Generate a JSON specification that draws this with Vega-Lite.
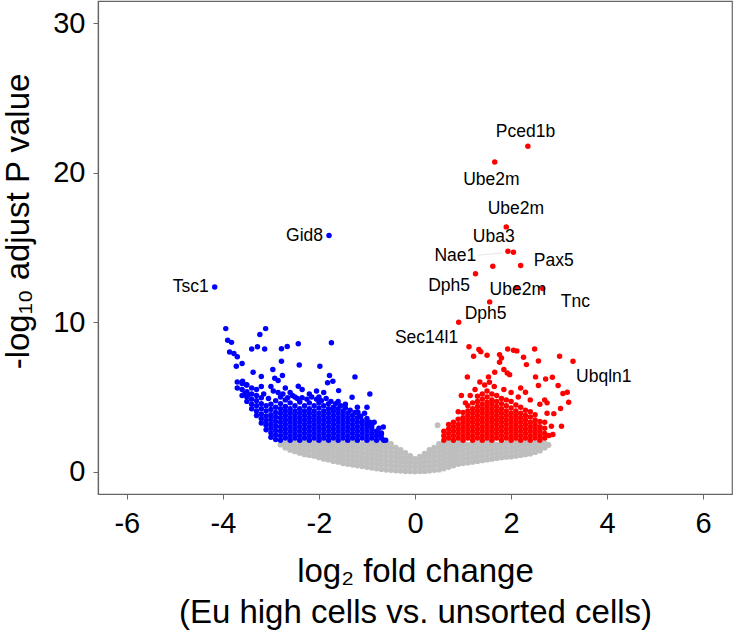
{
"$schema": "https://vega.github.io/schema/vega-lite/v6.json",
"width": 634, "height": 493,
"autosize": "none",
"padding": {"left": 98, "top": 1, "right": 2, "bottom": 140},
"background": "white",
"config": {"font": "Liberation Sans", "view": {"stroke": "#666666", "strokeWidth": 1.2}},
"datasets": {
"ns": [
{"lfc":-2.8,"p":1.8},
{"lfc":-2.7,"p":1.6},{"lfc":-2.7,"p":1.9},
{"lfc":-2.6,"p":1.45},{"lfc":-2.6,"p":1.75},{"lfc":-2.6,"p":1.95},
{"lfc":-2.5,"p":1.35},{"lfc":-2.5,"p":1.65},{"lfc":-2.5,"p":1.95},
{"lfc":-2.4,"p":1.25},{"lfc":-2.4,"p":1.55},{"lfc":-2.4,"p":1.85},
{"lfc":-2.3,"p":1.15},{"lfc":-2.3,"p":1.45},{"lfc":-2.3,"p":1.75},{"lfc":-2.3,"p":1.95},
{"lfc":-2.2,"p":1.1},{"lfc":-2.2,"p":1.4},{"lfc":-2.2,"p":1.7},{"lfc":-2.2,"p":1.95},
{"lfc":-2.1,"p":1.05},{"lfc":-2.1,"p":1.35},{"lfc":-2.1,"p":1.65},{"lfc":-2.1,"p":1.95},
{"lfc":-2.0,"p":0.95},{"lfc":-2.0,"p":1.25},{"lfc":-2.0,"p":1.55},{"lfc":-2.0,"p":1.85},
{"lfc":-1.9,"p":0.85},{"lfc":-1.9,"p":1.15},{"lfc":-1.9,"p":1.45},{"lfc":-1.9,"p":1.75},{"lfc":-1.9,"p":1.95},
{"lfc":-1.8,"p":0.8},{"lfc":-1.8,"p":1.1},{"lfc":-1.8,"p":1.4},{"lfc":-1.8,"p":1.7},{"lfc":-1.8,"p":1.95},
{"lfc":-1.7,"p":0.7},{"lfc":-1.7,"p":1.0},{"lfc":-1.7,"p":1.3},{"lfc":-1.7,"p":1.6},{"lfc":-1.7,"p":1.9},
{"lfc":-1.6,"p":0.65},{"lfc":-1.6,"p":0.95},{"lfc":-1.6,"p":1.25},{"lfc":-1.6,"p":1.55},{"lfc":-1.6,"p":1.85},
{"lfc":-1.5,"p":0.55},{"lfc":-1.5,"p":0.85},{"lfc":-1.5,"p":1.15},{"lfc":-1.5,"p":1.45},{"lfc":-1.5,"p":1.75},{"lfc":-1.5,"p":1.95},
{"lfc":-1.4,"p":0.5},{"lfc":-1.4,"p":0.8},{"lfc":-1.4,"p":1.1},{"lfc":-1.4,"p":1.4},{"lfc":-1.4,"p":1.7},{"lfc":-1.4,"p":1.95},
{"lfc":-1.3,"p":0.45},{"lfc":-1.3,"p":0.75},{"lfc":-1.3,"p":1.05},{"lfc":-1.3,"p":1.35},{"lfc":-1.3,"p":1.65},{"lfc":-1.3,"p":1.95},
{"lfc":-1.2,"p":0.4},{"lfc":-1.2,"p":0.7},{"lfc":-1.2,"p":1.0},{"lfc":-1.2,"p":1.3},{"lfc":-1.2,"p":1.6},{"lfc":-1.2,"p":1.9},
{"lfc":-1.1,"p":0.35},{"lfc":-1.1,"p":0.65},{"lfc":-1.1,"p":0.95},{"lfc":-1.1,"p":1.25},{"lfc":-1.1,"p":1.55},{"lfc":-1.1,"p":1.85},
{"lfc":-1.0,"p":0.3},{"lfc":-1.0,"p":0.6},{"lfc":-1.0,"p":0.9},{"lfc":-1.0,"p":1.2},{"lfc":-1.0,"p":1.5},{"lfc":-1.0,"p":1.8},{"lfc":-1.0,"p":1.95},
{"lfc":-0.9,"p":0.25},{"lfc":-0.9,"p":0.55},{"lfc":-0.9,"p":0.85},{"lfc":-0.9,"p":1.15},{"lfc":-0.9,"p":1.45},{"lfc":-0.9,"p":1.75},{"lfc":-0.9,"p":1.95},
{"lfc":-0.8,"p":0.2},{"lfc":-0.8,"p":0.5},{"lfc":-0.8,"p":0.8},{"lfc":-0.8,"p":1.1},{"lfc":-0.8,"p":1.4},{"lfc":-0.8,"p":1.7},{"lfc":-0.8,"p":1.95},
{"lfc":-0.7,"p":0.15},{"lfc":-0.7,"p":0.45},{"lfc":-0.7,"p":0.75},{"lfc":-0.7,"p":1.05},{"lfc":-0.7,"p":1.35},{"lfc":-0.7,"p":1.65},{"lfc":-0.7,"p":1.95},
{"lfc":-0.6,"p":0.12},{"lfc":-0.6,"p":0.42},{"lfc":-0.6,"p":0.72},{"lfc":-0.6,"p":1.02},{"lfc":-0.6,"p":1.32},{"lfc":-0.6,"p":1.62},{"lfc":-0.6,"p":1.9},
{"lfc":-0.5,"p":0.1},{"lfc":-0.5,"p":0.4},{"lfc":-0.5,"p":0.7},{"lfc":-0.5,"p":1.0},{"lfc":-0.5,"p":1.3},{"lfc":-0.5,"p":1.6},{"lfc":-0.5,"p":1.85},
{"lfc":-0.4,"p":0.07},{"lfc":-0.4,"p":0.37},{"lfc":-0.4,"p":0.67},{"lfc":-0.4,"p":0.97},{"lfc":-0.4,"p":1.27},{"lfc":-0.4,"p":1.6},
{"lfc":-0.3,"p":0.05},{"lfc":-0.3,"p":0.35},{"lfc":-0.3,"p":0.65},{"lfc":-0.3,"p":0.95},{"lfc":-0.3,"p":1.25},{"lfc":-0.3,"p":1.45},
{"lfc":-0.2,"p":0.03},{"lfc":-0.2,"p":0.33},{"lfc":-0.2,"p":0.63},{"lfc":-0.2,"p":0.93},{"lfc":-0.2,"p":1.25},
{"lfc":-0.1,"p":0.02},{"lfc":-0.1,"p":0.3},{"lfc":-0.1,"p":0.6},{"lfc":-0.1,"p":0.9},{"lfc":-0.1,"p":1.05},
{"lfc":0.0,"p":0.0},{"lfc":0.0,"p":0.3},{"lfc":0.0,"p":0.6},{"lfc":0.0,"p":0.85},
{"lfc":0.1,"p":0.02},{"lfc":0.1,"p":0.3},{"lfc":0.1,"p":0.6},{"lfc":0.1,"p":0.9},{"lfc":0.1,"p":1.0},
{"lfc":0.2,"p":0.03},{"lfc":0.2,"p":0.33},{"lfc":0.2,"p":0.63},{"lfc":0.2,"p":0.93},{"lfc":0.2,"p":1.2},
{"lfc":0.3,"p":0.06},{"lfc":0.3,"p":0.36},{"lfc":0.3,"p":0.66},{"lfc":0.3,"p":0.96},{"lfc":0.3,"p":1.26},{"lfc":0.3,"p":1.45},
{"lfc":0.4,"p":0.1},{"lfc":0.4,"p":0.4},{"lfc":0.4,"p":0.7},{"lfc":0.4,"p":1.0},{"lfc":0.4,"p":1.3},{"lfc":0.4,"p":1.6},
{"lfc":0.5,"p":0.13},{"lfc":0.5,"p":0.43},{"lfc":0.5,"p":0.73},{"lfc":0.5,"p":1.03},{"lfc":0.5,"p":1.33},{"lfc":0.5,"p":1.63},{"lfc":0.5,"p":1.85},
{"lfc":0.6,"p":0.2},{"lfc":0.6,"p":0.5},{"lfc":0.6,"p":0.8},{"lfc":0.6,"p":1.1},{"lfc":0.6,"p":1.4},{"lfc":0.6,"p":1.7},{"lfc":0.6,"p":1.92},
{"lfc":0.7,"p":0.3},{"lfc":0.7,"p":0.6},{"lfc":0.7,"p":0.9},{"lfc":0.7,"p":1.2},{"lfc":0.7,"p":1.5},{"lfc":0.7,"p":1.8},{"lfc":0.7,"p":1.95},
{"lfc":0.8,"p":0.4},{"lfc":0.8,"p":0.7},{"lfc":0.8,"p":1.0},{"lfc":0.8,"p":1.3},{"lfc":0.8,"p":1.6},{"lfc":0.8,"p":1.9},
{"lfc":0.9,"p":0.5},{"lfc":0.9,"p":0.8},{"lfc":0.9,"p":1.1},{"lfc":0.9,"p":1.4},{"lfc":0.9,"p":1.7},{"lfc":0.9,"p":1.95},
{"lfc":1.0,"p":0.55},{"lfc":1.0,"p":0.85},{"lfc":1.0,"p":1.15},{"lfc":1.0,"p":1.45},{"lfc":1.0,"p":1.75},{"lfc":1.0,"p":1.95},
{"lfc":1.1,"p":0.6},{"lfc":1.1,"p":0.9},{"lfc":1.1,"p":1.2},{"lfc":1.1,"p":1.5},{"lfc":1.1,"p":1.8},
{"lfc":1.2,"p":0.65},{"lfc":1.2,"p":0.95},{"lfc":1.2,"p":1.25},{"lfc":1.2,"p":1.55},{"lfc":1.2,"p":1.85},
{"lfc":1.3,"p":0.7},{"lfc":1.3,"p":1.0},{"lfc":1.3,"p":1.3},{"lfc":1.3,"p":1.6},{"lfc":1.3,"p":1.9},
{"lfc":1.4,"p":0.75},{"lfc":1.4,"p":1.05},{"lfc":1.4,"p":1.35},{"lfc":1.4,"p":1.65},{"lfc":1.4,"p":1.95},
{"lfc":1.5,"p":0.8},{"lfc":1.5,"p":1.1},{"lfc":1.5,"p":1.4},{"lfc":1.5,"p":1.7},{"lfc":1.5,"p":1.95},
{"lfc":1.6,"p":0.85},{"lfc":1.6,"p":1.15},{"lfc":1.6,"p":1.45},{"lfc":1.6,"p":1.75},{"lfc":1.6,"p":1.95},
{"lfc":1.7,"p":0.9},{"lfc":1.7,"p":1.2},{"lfc":1.7,"p":1.5},{"lfc":1.7,"p":1.8},
{"lfc":1.8,"p":0.95},{"lfc":1.8,"p":1.25},{"lfc":1.8,"p":1.55},{"lfc":1.8,"p":1.85},
{"lfc":1.9,"p":0.98},{"lfc":1.9,"p":1.28},{"lfc":1.9,"p":1.58},{"lfc":1.9,"p":1.88},
{"lfc":2.0,"p":1.0},{"lfc":2.0,"p":1.3},{"lfc":2.0,"p":1.6},{"lfc":2.0,"p":1.9},
{"lfc":2.1,"p":1.05},{"lfc":2.1,"p":1.35},{"lfc":2.1,"p":1.65},{"lfc":2.1,"p":1.95},
{"lfc":2.2,"p":1.1},{"lfc":2.2,"p":1.4},{"lfc":2.2,"p":1.7},{"lfc":2.2,"p":1.95},
{"lfc":2.3,"p":1.15},{"lfc":2.3,"p":1.45},{"lfc":2.3,"p":1.75},{"lfc":2.3,"p":1.95},
{"lfc":2.4,"p":1.2},{"lfc":2.4,"p":1.5},{"lfc":2.4,"p":1.8},
{"lfc":2.5,"p":1.3},{"lfc":2.5,"p":1.6},{"lfc":2.5,"p":1.9},
{"lfc":2.6,"p":1.4},{"lfc":2.6,"p":1.7},{"lfc":2.6,"p":1.95},
{"lfc":2.7,"p":1.6},{"lfc":2.7,"p":1.9},
{"lfc":2.78,"p":1.78},
{"lfc":0.47,"p":3.1}
],
"down": [
{"lfc":-3.7,"p":5.6},{"lfc":-3.7,"p":6.0},
{"lfc":-3.6,"p":5.1},{"lfc":-3.6,"p":5.5},{"lfc":-3.6,"p":5.9},
{"lfc":-3.5,"p":4.7},{"lfc":-3.5,"p":5.0},{"lfc":-3.5,"p":5.35},{"lfc":-3.5,"p":5.8},
{"lfc":-3.4,"p":4.2},{"lfc":-3.4,"p":4.5},{"lfc":-3.4,"p":4.85},{"lfc":-3.4,"p":5.2},{"lfc":-3.4,"p":5.6},
{"lfc":-3.3,"p":3.75},{"lfc":-3.3,"p":4.05},{"lfc":-3.3,"p":4.4},{"lfc":-3.3,"p":4.75},{"lfc":-3.3,"p":5.1},
{"lfc":-3.2,"p":3.25},{"lfc":-3.2,"p":3.55},{"lfc":-3.2,"p":3.85},{"lfc":-3.2,"p":4.2},{"lfc":-3.2,"p":4.55},{"lfc":-3.2,"p":4.95},
{"lfc":-3.1,"p":2.8},{"lfc":-3.1,"p":3.1},{"lfc":-3.1,"p":3.4},{"lfc":-3.1,"p":3.7},{"lfc":-3.1,"p":4.05},{"lfc":-3.1,"p":4.4},
{"lfc":-3.0,"p":2.3},{"lfc":-3.0,"p":2.6},{"lfc":-3.0,"p":2.9},{"lfc":-3.0,"p":3.2},{"lfc":-3.0,"p":3.5},{"lfc":-3.0,"p":3.8},{"lfc":-3.0,"p":4.15},{"lfc":-3.0,"p":4.5},
{"lfc":-2.9,"p":2.15},{"lfc":-2.9,"p":2.45},{"lfc":-2.9,"p":2.75},{"lfc":-2.9,"p":3.05},{"lfc":-2.9,"p":3.35},{"lfc":-2.9,"p":3.65},{"lfc":-2.9,"p":3.95},{"lfc":-2.9,"p":4.3},{"lfc":-2.9,"p":4.75},
{"lfc":-2.8,"p":2.1},{"lfc":-2.8,"p":2.4},{"lfc":-2.8,"p":2.7},{"lfc":-2.8,"p":3.0},{"lfc":-2.8,"p":3.3},{"lfc":-2.8,"p":3.6},{"lfc":-2.8,"p":3.9},{"lfc":-2.8,"p":4.2},{"lfc":-2.8,"p":4.55},{"lfc":-2.8,"p":5.0},
{"lfc":-2.7,"p":2.25},{"lfc":-2.7,"p":2.55},{"lfc":-2.7,"p":2.85},{"lfc":-2.7,"p":3.15},{"lfc":-2.7,"p":3.45},{"lfc":-2.7,"p":3.75},{"lfc":-2.7,"p":4.05},{"lfc":-2.7,"p":4.35},{"lfc":-2.7,"p":4.8},
{"lfc":-2.6,"p":2.1},{"lfc":-2.6,"p":2.4},{"lfc":-2.6,"p":2.7},{"lfc":-2.6,"p":3.0},{"lfc":-2.6,"p":3.3},{"lfc":-2.6,"p":3.6},{"lfc":-2.6,"p":3.9},{"lfc":-2.6,"p":4.2},{"lfc":-2.6,"p":4.6},
{"lfc":-2.5,"p":2.25},{"lfc":-2.5,"p":2.55},{"lfc":-2.5,"p":2.85},{"lfc":-2.5,"p":3.15},{"lfc":-2.5,"p":3.45},{"lfc":-2.5,"p":3.75},{"lfc":-2.5,"p":4.05},{"lfc":-2.5,"p":4.4},
{"lfc":-2.4,"p":2.1},{"lfc":-2.4,"p":2.4},{"lfc":-2.4,"p":2.7},{"lfc":-2.4,"p":3.0},{"lfc":-2.4,"p":3.3},{"lfc":-2.4,"p":3.6},{"lfc":-2.4,"p":3.9},{"lfc":-2.4,"p":4.2},{"lfc":-2.4,"p":4.65},
{"lfc":-2.3,"p":2.25},{"lfc":-2.3,"p":2.55},{"lfc":-2.3,"p":2.85},{"lfc":-2.3,"p":3.15},{"lfc":-2.3,"p":3.45},{"lfc":-2.3,"p":3.75},{"lfc":-2.3,"p":4.05},{"lfc":-2.3,"p":4.4},
{"lfc":-2.2,"p":2.1},{"lfc":-2.2,"p":2.4},{"lfc":-2.2,"p":2.7},{"lfc":-2.2,"p":3.0},{"lfc":-2.2,"p":3.3},{"lfc":-2.2,"p":3.6},{"lfc":-2.2,"p":3.9},{"lfc":-2.2,"p":4.2},{"lfc":-2.2,"p":4.6},
{"lfc":-2.1,"p":2.25},{"lfc":-2.1,"p":2.55},{"lfc":-2.1,"p":2.85},{"lfc":-2.1,"p":3.15},{"lfc":-2.1,"p":3.45},{"lfc":-2.1,"p":3.75},{"lfc":-2.1,"p":4.05},{"lfc":-2.1,"p":4.4},
{"lfc":-2.0,"p":2.1},{"lfc":-2.0,"p":2.4},{"lfc":-2.0,"p":2.7},{"lfc":-2.0,"p":3.0},{"lfc":-2.0,"p":3.3},{"lfc":-2.0,"p":3.6},{"lfc":-2.0,"p":3.9},{"lfc":-2.0,"p":4.25},{"lfc":-2.0,"p":4.6},
{"lfc":-1.9,"p":2.25},{"lfc":-1.9,"p":2.55},{"lfc":-1.9,"p":2.85},{"lfc":-1.9,"p":3.15},{"lfc":-1.9,"p":3.45},{"lfc":-1.9,"p":3.75},{"lfc":-1.9,"p":4.05},{"lfc":-1.9,"p":4.4},
{"lfc":-1.8,"p":2.1},{"lfc":-1.8,"p":2.4},{"lfc":-1.8,"p":2.7},{"lfc":-1.8,"p":3.0},{"lfc":-1.8,"p":3.3},{"lfc":-1.8,"p":3.6},{"lfc":-1.8,"p":3.9},{"lfc":-1.8,"p":4.2},{"lfc":-1.8,"p":4.55},
{"lfc":-1.7,"p":2.25},{"lfc":-1.7,"p":2.55},{"lfc":-1.7,"p":2.85},{"lfc":-1.7,"p":3.15},{"lfc":-1.7,"p":3.45},{"lfc":-1.7,"p":3.75},{"lfc":-1.7,"p":4.05},{"lfc":-1.7,"p":4.3},
{"lfc":-1.6,"p":2.1},{"lfc":-1.6,"p":2.4},{"lfc":-1.6,"p":2.7},{"lfc":-1.6,"p":3.0},{"lfc":-1.6,"p":3.3},{"lfc":-1.6,"p":3.6},{"lfc":-1.6,"p":3.9},{"lfc":-1.6,"p":4.2},
{"lfc":-1.5,"p":2.25},{"lfc":-1.5,"p":2.55},{"lfc":-1.5,"p":2.85},{"lfc":-1.5,"p":3.15},{"lfc":-1.5,"p":3.45},{"lfc":-1.5,"p":3.75},{"lfc":-1.5,"p":4.05},
{"lfc":-1.4,"p":2.1},{"lfc":-1.4,"p":2.4},{"lfc":-1.4,"p":2.7},{"lfc":-1.4,"p":3.0},{"lfc":-1.4,"p":3.3},{"lfc":-1.4,"p":3.6},{"lfc":-1.4,"p":3.9},
{"lfc":-1.3,"p":2.25},{"lfc":-1.3,"p":2.55},{"lfc":-1.3,"p":2.85},{"lfc":-1.3,"p":3.15},{"lfc":-1.3,"p":3.45},{"lfc":-1.3,"p":3.75},
{"lfc":-1.2,"p":2.1},{"lfc":-1.2,"p":2.4},{"lfc":-1.2,"p":2.7},{"lfc":-1.2,"p":3.0},{"lfc":-1.2,"p":3.3},{"lfc":-1.2,"p":3.6},
{"lfc":-1.1,"p":2.25},{"lfc":-1.1,"p":2.55},{"lfc":-1.1,"p":2.85},{"lfc":-1.1,"p":3.15},{"lfc":-1.1,"p":3.4},
{"lfc":-1.0,"p":2.1},{"lfc":-1.0,"p":2.4},{"lfc":-1.0,"p":2.7},{"lfc":-1.0,"p":3.0},{"lfc":-1.0,"p":3.25},
{"lfc":-0.9,"p":2.25},{"lfc":-0.9,"p":2.55},{"lfc":-0.9,"p":2.85},{"lfc":-0.9,"p":3.05},
{"lfc":-0.8,"p":2.1},{"lfc":-0.8,"p":2.4},{"lfc":-0.8,"p":2.7},
{"lfc":-0.7,"p":2.25},{"lfc":-0.7,"p":2.5},
{"lfc":-0.65,"p":2.1},
{"lfc":-2.75,"p":5.2},{"lfc":-2.65,"p":4.95},{"lfc":-2.55,"p":5.1},{"lfc":-2.45,"p":4.9},{"lfc":-2.35,"p":4.95},
{"lfc":-2.25,"p":4.85},{"lfc":-2.15,"p":5.0},{"lfc":-2.05,"p":4.85},{"lfc":-1.95,"p":4.75},{"lfc":-1.75,"p":4.7},
{"lfc":-1.65,"p":4.55},{"lfc":-1.55,"p":4.4},{"lfc":-1.45,"p":4.25},{"lfc":-1.35,"p":4.1},{"lfc":-1.25,"p":3.95},
{"lfc":-1.15,"p":3.7},{"lfc":-3.05,"p":4.9},{"lfc":-2.85,"p":5.3},
{"lfc":-3.94,"p":9.57},{"lfc":-3.11,"p":9.57},{"lfc":-3.23,"p":9.17},{"lfc":-3.9,"p":8.79},{"lfc":-3.82,"p":8.65},
{"lfc":-3.86,"p":8.01},{"lfc":-3.77,"p":7.9},{"lfc":-3.7,"p":7.68},{"lfc":-3.72,"p":7.05},{"lfc":-3.6,"p":7.23},
{"lfc":-3.4,"p":8.21},{"lfc":-3.28,"p":8.35},{"lfc":-3.13,"p":8.21},{"lfc":-2.78,"p":8.23},{"lfc":-2.66,"p":8.37},
{"lfc":-2.43,"p":8.55},{"lfc":-1.74,"p":8.63},{"lfc":-2.78,"p":7.38},{"lfc":-2.41,"p":7.14},{"lfc":-1.98,"p":7.05},
{"lfc":-3.37,"p":6.65},{"lfc":-3.2,"p":6.36},{"lfc":-2.96,"p":6.83},{"lfc":-2.76,"p":6.43},{"lfc":-2.85,"p":6.1},
{"lfc":-2.92,"p":6.25},{"lfc":-1.78,"p":6.43},{"lfc":-1.71,"p":6.04},{"lfc":-1.82,"p":5.94},{"lfc":-1.25,"p":6.34},
{"lfc":-0.94,"p":5.2},{"lfc":-1.0,"p":4.3},{"lfc":-1.59,"p":5.42},{"lfc":-1.31,"p":4.97},{"lfc":-2.43,"p":5.71},
{"lfc":-3.59,"p":6.04},{"lfc":-3.51,"p":5.82},{"lfc":-3.54,"p":5.22},{"lfc":-3.47,"p":5.15},{"lfc":-3.2,"p":5.7},
{"lfc":-0.66,"p":2.99},{"lfc":-0.61,"p":2.1},{"lfc":-0.8,"p":2.41},{"lfc":-0.7,"p":2.59},{"lfc":-0.94,"p":3.3},
{"lfc":-1.0,"p":3.55},{"lfc":-1.19,"p":3.97},{"lfc":-1.13,"p":3.7},
{"lfc":-2.6,"p":5.3},{"lfc":-2.2,"p":5.2},{"lfc":-2.0,"p":5.0},{"lfc":-1.9,"p":5.3},{"lfc":-1.6,"p":4.7},
{"lfc":-1.45,"p":4.5},{"lfc":-2.5,"p":5.0},{"lfc":-2.35,"p":5.5},{"lfc":-2.95,"p":5.4},{"lfc":-3.0,"p":5.7},
{"lfc":-2.7,"p":5.6},{"lfc":-1.2,"p":4.3},{"lfc":-1.05,"p":3.9},{"lfc":-0.85,"p":3.3},{"lfc":-0.75,"p":2.9},
{"lfc":-3.3,"p":5.5},{"lfc":-3.15,"p":5.2},{"lfc":-2.05,"p":5.4},{"lfc":-1.85,"p":4.9},
{"lfc":-1.79,"p":15.8},{"lfc":-4.17,"p":12.36}
],
"up": [
{"lfc":0.6,"p":2.1},{"lfc":0.6,"p":2.4},{"lfc":0.6,"p":2.7},
{"lfc":0.7,"p":2.25},{"lfc":0.7,"p":2.55},{"lfc":0.7,"p":2.85},{"lfc":0.7,"p":3.15},
{"lfc":0.8,"p":2.1},{"lfc":0.8,"p":2.4},{"lfc":0.8,"p":2.7},{"lfc":0.8,"p":3.0},{"lfc":0.8,"p":3.3},
{"lfc":0.9,"p":2.25},{"lfc":0.9,"p":2.55},{"lfc":0.9,"p":2.85},{"lfc":0.9,"p":3.15},{"lfc":0.9,"p":3.5},
{"lfc":1.0,"p":2.1},{"lfc":1.0,"p":2.4},{"lfc":1.0,"p":2.7},{"lfc":1.0,"p":3.0},{"lfc":1.0,"p":3.3},{"lfc":1.0,"p":3.6},{"lfc":1.0,"p":3.95},
{"lfc":1.1,"p":2.25},{"lfc":1.1,"p":2.55},{"lfc":1.1,"p":2.85},{"lfc":1.1,"p":3.15},{"lfc":1.1,"p":3.45},{"lfc":1.1,"p":3.75},{"lfc":1.1,"p":4.05},{"lfc":1.1,"p":4.4},
{"lfc":1.2,"p":2.1},{"lfc":1.2,"p":2.4},{"lfc":1.2,"p":2.7},{"lfc":1.2,"p":3.0},{"lfc":1.2,"p":3.3},{"lfc":1.2,"p":3.6},{"lfc":1.2,"p":3.9},{"lfc":1.2,"p":4.2},{"lfc":1.2,"p":4.6},
{"lfc":1.3,"p":2.25},{"lfc":1.3,"p":2.55},{"lfc":1.3,"p":2.85},{"lfc":1.3,"p":3.15},{"lfc":1.3,"p":3.45},{"lfc":1.3,"p":3.75},{"lfc":1.3,"p":4.05},{"lfc":1.3,"p":4.35},{"lfc":1.3,"p":4.7},{"lfc":1.3,"p":5.05},
{"lfc":1.4,"p":2.1},{"lfc":1.4,"p":2.4},{"lfc":1.4,"p":2.7},{"lfc":1.4,"p":3.0},{"lfc":1.4,"p":3.3},{"lfc":1.4,"p":3.6},{"lfc":1.4,"p":3.9},{"lfc":1.4,"p":4.2},{"lfc":1.4,"p":4.5},{"lfc":1.4,"p":4.85},{"lfc":1.4,"p":5.2},
{"lfc":1.5,"p":2.25},{"lfc":1.5,"p":2.55},{"lfc":1.5,"p":2.85},{"lfc":1.5,"p":3.15},{"lfc":1.5,"p":3.45},{"lfc":1.5,"p":3.75},{"lfc":1.5,"p":4.05},{"lfc":1.5,"p":4.35},{"lfc":1.5,"p":4.65},{"lfc":1.5,"p":5.0},{"lfc":1.5,"p":5.4},
{"lfc":1.6,"p":2.1},{"lfc":1.6,"p":2.4},{"lfc":1.6,"p":2.7},{"lfc":1.6,"p":3.0},{"lfc":1.6,"p":3.3},{"lfc":1.6,"p":3.6},{"lfc":1.6,"p":3.9},{"lfc":1.6,"p":4.2},{"lfc":1.6,"p":4.5},{"lfc":1.6,"p":4.8},{"lfc":1.6,"p":5.2},
{"lfc":1.7,"p":2.25},{"lfc":1.7,"p":2.55},{"lfc":1.7,"p":2.85},{"lfc":1.7,"p":3.15},{"lfc":1.7,"p":3.45},{"lfc":1.7,"p":3.75},{"lfc":1.7,"p":4.05},{"lfc":1.7,"p":4.35},{"lfc":1.7,"p":4.7},{"lfc":1.7,"p":5.1},
{"lfc":1.8,"p":2.1},{"lfc":1.8,"p":2.4},{"lfc":1.8,"p":2.7},{"lfc":1.8,"p":3.0},{"lfc":1.8,"p":3.3},{"lfc":1.8,"p":3.6},{"lfc":1.8,"p":3.9},{"lfc":1.8,"p":4.2},{"lfc":1.8,"p":4.55},{"lfc":1.8,"p":4.9},
{"lfc":1.9,"p":2.25},{"lfc":1.9,"p":2.55},{"lfc":1.9,"p":2.85},{"lfc":1.9,"p":3.15},{"lfc":1.9,"p":3.45},{"lfc":1.9,"p":3.75},{"lfc":1.9,"p":4.05},{"lfc":1.9,"p":4.4},{"lfc":1.9,"p":4.8},
{"lfc":2.0,"p":2.1},{"lfc":2.0,"p":2.4},{"lfc":2.0,"p":2.7},{"lfc":2.0,"p":3.0},{"lfc":2.0,"p":3.3},{"lfc":2.0,"p":3.6},{"lfc":2.0,"p":3.9},{"lfc":2.0,"p":4.25},{"lfc":2.0,"p":4.7},
{"lfc":2.1,"p":2.25},{"lfc":2.1,"p":2.55},{"lfc":2.1,"p":2.85},{"lfc":2.1,"p":3.15},{"lfc":2.1,"p":3.45},{"lfc":2.1,"p":3.75},{"lfc":2.1,"p":4.05},{"lfc":2.1,"p":4.45},
{"lfc":2.2,"p":2.1},{"lfc":2.2,"p":2.4},{"lfc":2.2,"p":2.7},{"lfc":2.2,"p":3.0},{"lfc":2.2,"p":3.3},{"lfc":2.2,"p":3.6},{"lfc":2.2,"p":3.9},{"lfc":2.2,"p":4.3},
{"lfc":2.3,"p":2.25},{"lfc":2.3,"p":2.55},{"lfc":2.3,"p":2.85},{"lfc":2.3,"p":3.15},{"lfc":2.3,"p":3.45},{"lfc":2.3,"p":3.75},{"lfc":2.3,"p":4.1},
{"lfc":2.4,"p":2.1},{"lfc":2.4,"p":2.4},{"lfc":2.4,"p":2.7},{"lfc":2.4,"p":3.0},{"lfc":2.4,"p":3.3},{"lfc":2.4,"p":3.65},{"lfc":2.4,"p":4.0},
{"lfc":2.5,"p":2.25},{"lfc":2.5,"p":2.55},{"lfc":2.5,"p":2.85},{"lfc":2.5,"p":3.15},{"lfc":2.5,"p":3.45},{"lfc":2.5,"p":3.8},
{"lfc":2.6,"p":2.1},{"lfc":2.6,"p":2.4},{"lfc":2.6,"p":2.7},{"lfc":2.6,"p":3.0},{"lfc":2.6,"p":3.35},
{"lfc":2.7,"p":2.25},{"lfc":2.7,"p":2.55},{"lfc":2.7,"p":2.9},
{"lfc":1.124,"p":8.35},{"lfc":1.33,"p":8.17},{"lfc":1.37,"p":8.03},{"lfc":1.22,"p":7.72},{"lfc":1.5,"p":7.78},
{"lfc":1.76,"p":7.83},{"lfc":1.93,"p":8.21},{"lfc":2.05,"p":8.12},{"lfc":2.12,"p":8.08},{"lfc":1.8,"p":7.61},
{"lfc":2.49,"p":8.21},{"lfc":2.26,"p":7.65},{"lfc":2.32,"p":7.16},{"lfc":2.57,"p":7.41},{"lfc":3.01,"p":7.72},
{"lfc":3.29,"p":7.38},{"lfc":1.76,"p":7.32},{"lfc":1.85,"p":6.83},{"lfc":1.92,"p":6.6},{"lfc":1.97,"p":6.49},
{"lfc":1.09,"p":6.34},{"lfc":2.51,"p":6.34},{"lfc":2.72,"p":6.2},{"lfc":2.86,"p":6.31},{"lfc":2.57,"p":5.76},
{"lfc":2.98,"p":5.76},{"lfc":1.53,"p":6.34},{"lfc":1.66,"p":6.65},{"lfc":1.55,"p":5.98},{"lfc":2.3,"p":5.31},
{"lfc":3.08,"p":5.22},{"lfc":3.17,"p":5.31},{"lfc":3.2,"p":4.64},{"lfc":0.965,"p":5.09},{"lfc":2.89,"p":3.88},
{"lfc":3.03,"p":4.22},{"lfc":2.7,"p":4.8},{"lfc":2.75,"p":4.6},{"lfc":2.84,"p":3.03},{"lfc":3.05,"p":3.03},
{"lfc":2.87,"p":2.48},{"lfc":2.79,"p":2.41},
{"lfc":1.25,"p":5.5},{"lfc":1.45,"p":5.8},{"lfc":1.65,"p":5.7},{"lfc":1.85,"p":5.5},{"lfc":2.0,"p":5.3},
{"lfc":2.15,"p":5.0},{"lfc":2.4,"p":4.8},{"lfc":2.6,"p":4.5},{"lfc":1.05,"p":4.6},{"lfc":0.9,"p":4.0},
{"lfc":2.2,"p":5.6},{"lfc":1.35,"p":6.0},{"lfc":2.7,"p":3.3},{"lfc":2.75,"p":3.9},{"lfc":1.15,"p":5.1},
{"lfc":2.35,"p":21.77},{"lfc":1.66,"p":20.72},{"lfc":1.9,"p":16.38},{"lfc":1.935,"p":14.75},{"lfc":2.05,"p":14.68},
{"lfc":2.2,"p":13.79},{"lfc":1.62,"p":13.74},{"lfc":1.26,"p":13.25},{"lfc":2.12,"p":12.3},{"lfc":2.66,"p":12.25},
{"lfc":1.555,"p":11.36},{"lfc":0.91,"p":9.99}
],
"seg": [{"lfc":1.31,"p":14.48,"lfc2":1.83,"p2":14.64}],
"lab": [
{"lfc":2.3,"p":22.71,"gene":"Pced1b"},
{"lfc":1.59,"p":19.54,"gene":"Ube2m"},
{"lfc":2.1,"p":17.58,"gene":"Ube2m"},
{"lfc":1.64,"p":15.71,"gene":"Uba3"},
{"lfc":0.84,"p":14.41,"gene":"Nae1"},
{"lfc":2.89,"p":14.08,"gene":"Pax5"},
{"lfc":0.71,"p":12.45,"gene":"Dph5"},
{"lfc":2.14,"p":12.18,"gene":"Ube2m"},
{"lfc":3.34,"p":11.33,"gene":"Tnc"},
{"lfc":1.47,"p":10.58,"gene":"Dph5"},
{"lfc":0.24,"p":8.95,"gene":"Sec14l1"},
{"lfc":3.93,"p":6.31,"gene":"Ubqln1"},
{"lfc":-2.3,"p":15.75,"gene":"Gid8"},
{"lfc":-4.67,"p":12.34,"gene":"Tsc1"}
]
},
"encoding": {
"x": {"field": "lfc", "type": "quantitative",
  "scale": {"domain": [-6.6, 6.6], "nice": false, "zero": false},
  "axis": {"values": [-6,-4,-2,0,2,4,6], "labelExpr": "datum.value + ''", "grid": false, "labelFontSize": 29, "labelColor": "#000", "labelPadding": 10, "tickSize": 5, "tickColor": "#666", "domainColor": "#666", "domainWidth": 1.2,
    "title": ["log\u2082 fold change", "(Eu high cells vs. unsorted cells)"], "titleFontSize": 33, "titleFontWeight": "normal", "titleColor": "#000", "titleLineHeight": 41, "titlePadding": 17}},
"y": {"field": "p", "type": "quantitative",
  "scale": {"domain": [-1.5, 31.5], "nice": false, "zero": false},
  "axis": {"values": [0,10,20,30], "labelExpr": "datum.value + ''", "grid": false, "labelFontSize": 29, "labelColor": "#000", "labelPadding": 8, "tickSize": 5, "tickColor": "#666", "domainColor": "#666", "domainWidth": 1.2,
    "title": "-log\u2081\u2080 adjust P value", "titleFontSize": 33, "titleFontWeight": "normal", "titleColor": "#000", "titlePadding": 17, "titleY": 220}}
},
"layer": [
{"data": {"name": "ns"}, "mark": {"type": "point", "filled": true, "opacity": 1, "size": 34, "color": "#bebebe"}},
{"data": {"name": "down"}, "mark": {"type": "point", "filled": true, "opacity": 1, "size": 30, "color": "#0000ff"}},
{"data": {"name": "up"}, "mark": {"type": "point", "filled": true, "opacity": 1, "size": 30, "color": "#ff0000"}},
{"data": {"name": "seg"}, "mark": {"type": "rule", "color": "#e6e6e6", "strokeWidth": 1}, "encoding": {"x2": {"field": "lfc2"}, "y2": {"field": "p2"}}},
{"data": {"name": "lab"}, "mark": {"type": "text", "fontSize": 17.5, "color": "#000", "align": "center", "baseline": "middle"}, "encoding": {"text": {"field": "gene"}}}
]
}
